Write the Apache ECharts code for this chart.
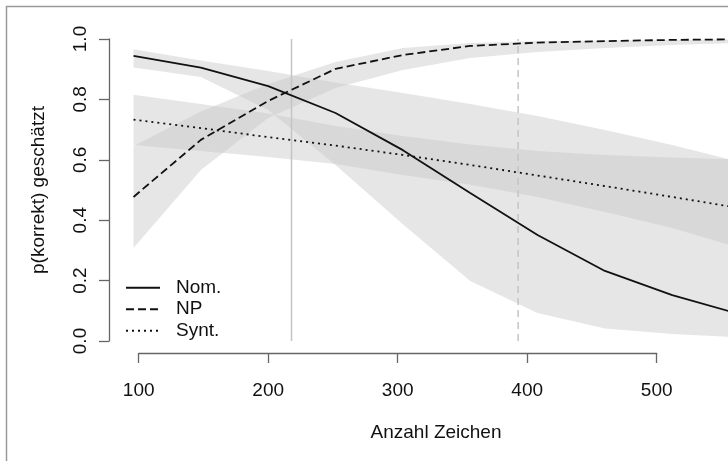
<!DOCTYPE html>
<html>
<head>
<meta charset="utf-8">
<script src="https://cdn.jsdelivr.net/npm/echarts@6/dist/echarts.min.js"></script>
<style>
  html, body { margin: 0; padding: 0; background: #fff; }
  #chart { width: 728px; height: 461px; }
</style>
</head>
<body>
<div id="chart"></div>
<script>
// Text length (characters) at which the predictions are evaluated
const nChars = [96, 148, 200, 252, 304, 356, 408, 460, 512, 564];

// Predicted probability of a correct answer, with interval bounds
const nomFit = [0.944, 0.905, 0.844, 0.755, 0.632, 0.490, 0.351, 0.232, 0.152, 0.089];
const nomHi  = [0.966, 0.929, 0.894, 0.856, 0.821, 0.785, 0.745, 0.699, 0.649, 0.593];
const nomLo  = [0.906, 0.874, 0.765, 0.583, 0.387, 0.199, 0.093, 0.041, 0.023, 0.012];

const npFit = [0.477, 0.666, 0.795, 0.901, 0.947, 0.977, 0.988, 0.993, 0.997, 0.999];
const npHi  = [0.646, 0.760, 0.851, 0.924, 0.970, 0.987, 0.993, 0.995, 0.997, 0.999];
const npLo  = [0.308, 0.566, 0.738, 0.838, 0.897, 0.937, 0.957, 0.970, 0.980, 0.987];

const syntFit = [0.733, 0.705, 0.675, 0.647, 0.616, 0.583, 0.548, 0.513, 0.477, 0.440];
const syntHi  = [0.815, 0.785, 0.753, 0.712, 0.679, 0.651, 0.629, 0.616, 0.608, 0.601];
const syntLo  = [0.649, 0.629, 0.609, 0.586, 0.550, 0.517, 0.477, 0.427, 0.374, 0.308];

// Reference text lengths marked with vertical lines
const refSolid = 218;
const refDashed = 393;

// Axis ticks
const xTicks = [100, 200, 300, 400, 500];
const yTicks = [0, 0.2, 0.4, 0.6, 0.8, 1.0];

const FONT = "'Liberation Sans', Arial, Helvetica, sans-serif";
const INK = '#111111';
const AXIS = '#666666';
const BAND = 'rgba(200,200,200,0.45)';

const pairs = (ys) => nChars.map((x, i) => [x, ys[i]]);

// Interval band drawn as one filled polygon through the axis scales
function band(name, lo, hi) {
  return {
    type: 'custom', name: name, xAxisIndex: 0, yAxisIndex: 0, silent: true, clip: true,
    data: nChars.map((x, i) => [x, lo[i], hi[i]]),
    encode: { x: 0, y: [1, 2] },
    renderItem: (params, api) => {
      if (params.dataIndex !== 0) return null;
      const upper = nChars.map((x, i) => api.coord([x, hi[i]]));
      const lower = nChars.map((x, i) => api.coord([x, lo[i]])).reverse();
      return {
        type: 'polygon',
        shape: { points: upper.concat(lower) },
        style: { fill: BAND, stroke: null }
      };
    }
  };
}

function curve(name, ys, dash) {
  return {
    type: 'line', name: name, data: pairs(ys),
    xAxisIndex: 0, yAxisIndex: 0, symbol: 'none', silent: true,
    lineStyle: { color: INK, width: 1.8, type: dash, cap: 'butt' },
    itemStyle: { color: INK }
  };
}

function vline(x, dash) {
  return {
    type: 'line', name: 'ref' + x, data: [[x, 0], [x, 1]],
    xAxisIndex: 0, yAxisIndex: 0, symbol: 'none', silent: true,
    lineStyle: { color: '#c4c4c4', width: 1.5, type: dash }
  };
}

const chart = echarts.init(document.getElementById('chart'), null, { renderer: 'canvas' });

const hidden = { show: false };

chart.setOption({
  animation: false,
  backgroundColor: '#ffffff',
  textStyle: { fontFamily: FONT },
  grid: [
    // plotting area, running out at the right edge
    { left: 86.9, right: 0, top: 39, bottom: 120 },
    // x axis drawn below the data
    { left: 138.7, width: 518, top: 39, bottom: 108 },
    // y axis drawn left of the data
    { left: 109, width: 40, top: 39, bottom: 120 }
  ],
  xAxis: [
    { gridIndex: 0, type: 'value', min: 60, max: 555.06, axisLine: hidden, axisTick: hidden, axisLabel: hidden, splitLine: hidden },
    {
      gridIndex: 1, type: 'value', min: xTicks[0], max: xTicks[xTicks.length - 1], interval: 100,
      position: 'bottom',
      axisLine: { show: true, lineStyle: { color: AXIS, width: 1.3 } },
      axisTick: { show: true, length: 10, lineStyle: { color: AXIS, width: 1.3 } },
      axisLabel: { show: true, margin: 38, verticalAlign: 'middle', fontSize: 19, color: INK, fontFamily: FONT },
      splitLine: hidden
    },
    { gridIndex: 2, type: 'value', min: 0, max: 1, axisLine: hidden, axisTick: hidden, axisLabel: hidden, splitLine: hidden }
  ],
  yAxis: [
    { gridIndex: 0, type: 'value', min: 0, max: 1, axisLine: hidden, axisTick: hidden, axisLabel: hidden, splitLine: hidden },
    { gridIndex: 1, type: 'value', min: 0, max: 1, axisLine: hidden, axisTick: hidden, axisLabel: hidden, splitLine: hidden },
    {
      gridIndex: 2, type: 'value', min: yTicks[0], max: yTicks[yTicks.length - 1], interval: 0.2,
      position: 'left',
      axisLine: { show: true, lineStyle: { color: AXIS, width: 1.3 } },
      axisTick: { show: true, length: 10, lineStyle: { color: AXIS, width: 1.3 } },
      axisLabel: {
        show: true, rotate: 90, margin: 28, align: 'center', verticalAlign: 'middle',
        fontSize: 19, color: INK, fontFamily: FONT,
        formatter: (v) => v.toFixed(1)
      },
      splitLine: hidden
    }
  ],
  legend: {
    orient: 'vertical', left: 120, top: 272,
    itemWidth: 34, itemHeight: 21.5, itemGap: 0,
    data: ['Nom.', 'NP', 'Synt.'],
    itemStyle: { opacity: 0 },
    textStyle: { fontSize: 19, color: INK, fontFamily: FONT, padding: [0, 0, 0, 11], lineHeight: 21.5 },
    selectedMode: false
  },
  graphic: [
    {
      type: 'rect', silent: true, z: -10,
      shape: { x: 6.5, y: 6.5, width: 800, height: 500 },
      style: { fill: 'none', stroke: '#9a9a9a', lineWidth: 1.5 }
    },
    {
      type: 'text', x: 436, y: 433, silent: true,
      style: { text: 'Anzahl Zeichen', font: '19px ' + FONT, fill: INK, textAlign: 'center', textVerticalAlign: 'middle' }
    },
    {
      type: 'text', x: 39, y: 190, rotation: Math.PI / 2, silent: true,
      style: { text: 'p(korrekt) geschätzt', font: '19px ' + FONT, fill: INK, textAlign: 'center', textVerticalAlign: 'middle' }
    }
  ],
  series: [
    band('nomBand', nomLo, nomHi),
    band('npBand', npLo, npHi),
    band('syntBand', syntLo, syntHi),
    vline(refSolid, 'solid'),
    vline(refDashed, [7, 5]),
    curve('Nom.', nomFit, 'solid'),
    curve('NP', npFit, [8, 4]),
    curve('Synt.', syntFit, [2, 4])
  ]
});
</script>
</body>
</html>
